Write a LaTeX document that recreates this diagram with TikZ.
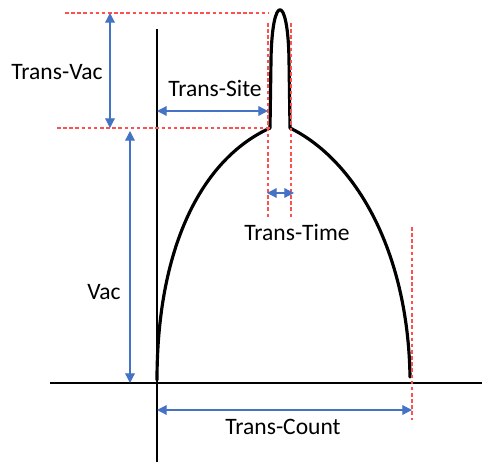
\documentclass[tikz,border=0pt]{standalone}
\usepackage{fontspec}
\setmainfont{Carlito}
\usepackage{xcolor}
\usetikzlibrary{arrows.meta,calc}
\definecolor{dimblue}{RGB}{68,114,196}
\definecolor{guidered}{RGB}{255,80,80}

\begin{document}
\begin{tikzpicture}[
  x=0.02cm,y=-0.02cm,
  font=\fontsize{13.4}{15}\selectfont,
  axis/.style={draw,line width=0.7pt},
  pulse/.style={draw,line width=1.8pt,line cap=round,line join=round},
  guide/.style={draw=guidered,line width=0.6pt,dash pattern=on 2pt off 1.5pt},
  dim/.style={draw=dimblue,line width=0.7pt,
              {Triangle[length=5.5pt,width=5.5pt]}-{Triangle[length=5.5pt,width=5.5pt]}},
  lab/.style={inner sep=1pt}
]
\useasboundingbox (0,0) rectangle (482,462);
% ---- Axes ----
\coordinate (origin) at (157,383);
\coordinate (xend)   at (482,383);
\coordinate (xbeg)   at (50,383);
\coordinate (ytop)   at (157,29);
\coordinate (ybot)   at (157,462);
\draw[axis] (xbeg) -- (xend);
\draw[axis] (ytop) -- (ybot);
% ---- Pulse ----
\coordinate (lfoot) at (157,380);
\coordinate (lbase) at (270,128);
\coordinate (rbase) at (290,128);
\coordinate (rfoot) at (410,377);
\draw[pulse] (lfoot) .. controls (157,250) and (200,160) .. (lbase)
  -- (271,60) .. controls (272,-7) and (288,-7) .. (289,60) -- (rbase)
  .. controls (355,160) and (408,250) .. (rfoot);
% ---- Guides ----
\coordinate (peak)  at (268,13);
\coordinate (tlft)  at (65,13);
\coordinate (blft)  at (57,128);
\coordinate (sitel) at (268,23);
\coordinate (siter) at (291,23);
\coordinate (endtop) at (412,227);
\draw[guide] (tlft) -- (peak);
\draw[guide] (blft) -- (lbase);
\draw[guide] (sitel) -- (sitel|-0,218);
\draw[guide] (siter) -- (siter|-0,218);
\draw[guide] (endtop) -- (endtop|-0,420);
% ---- Dimensions ----
\draw[dim] (110,13) -- (110,128) coordinate[midway] (tvmid);
\draw[dim] (130,131) -- (130,383) coordinate[midway] (vmid);
\draw[dim] (157,111) -- (268,111);
\draw[dim] (267,193) -- (294,193);
\draw[dim] (157,410) -- (412,410);
% ---- Labels ----
\node[lab] (tvac)   at (57,72)   {Trans-Vac};
\node[lab] (vac)    at (104,292) {Vac};
\node[lab] (tsite)  at (215,88)  {Trans-Site};
\node[lab] (ttime)  at (297,232) {Trans-Time};
\node[lab] (tcount) at (283,427) {Trans-Count};
\end{tikzpicture}
\end{document}
